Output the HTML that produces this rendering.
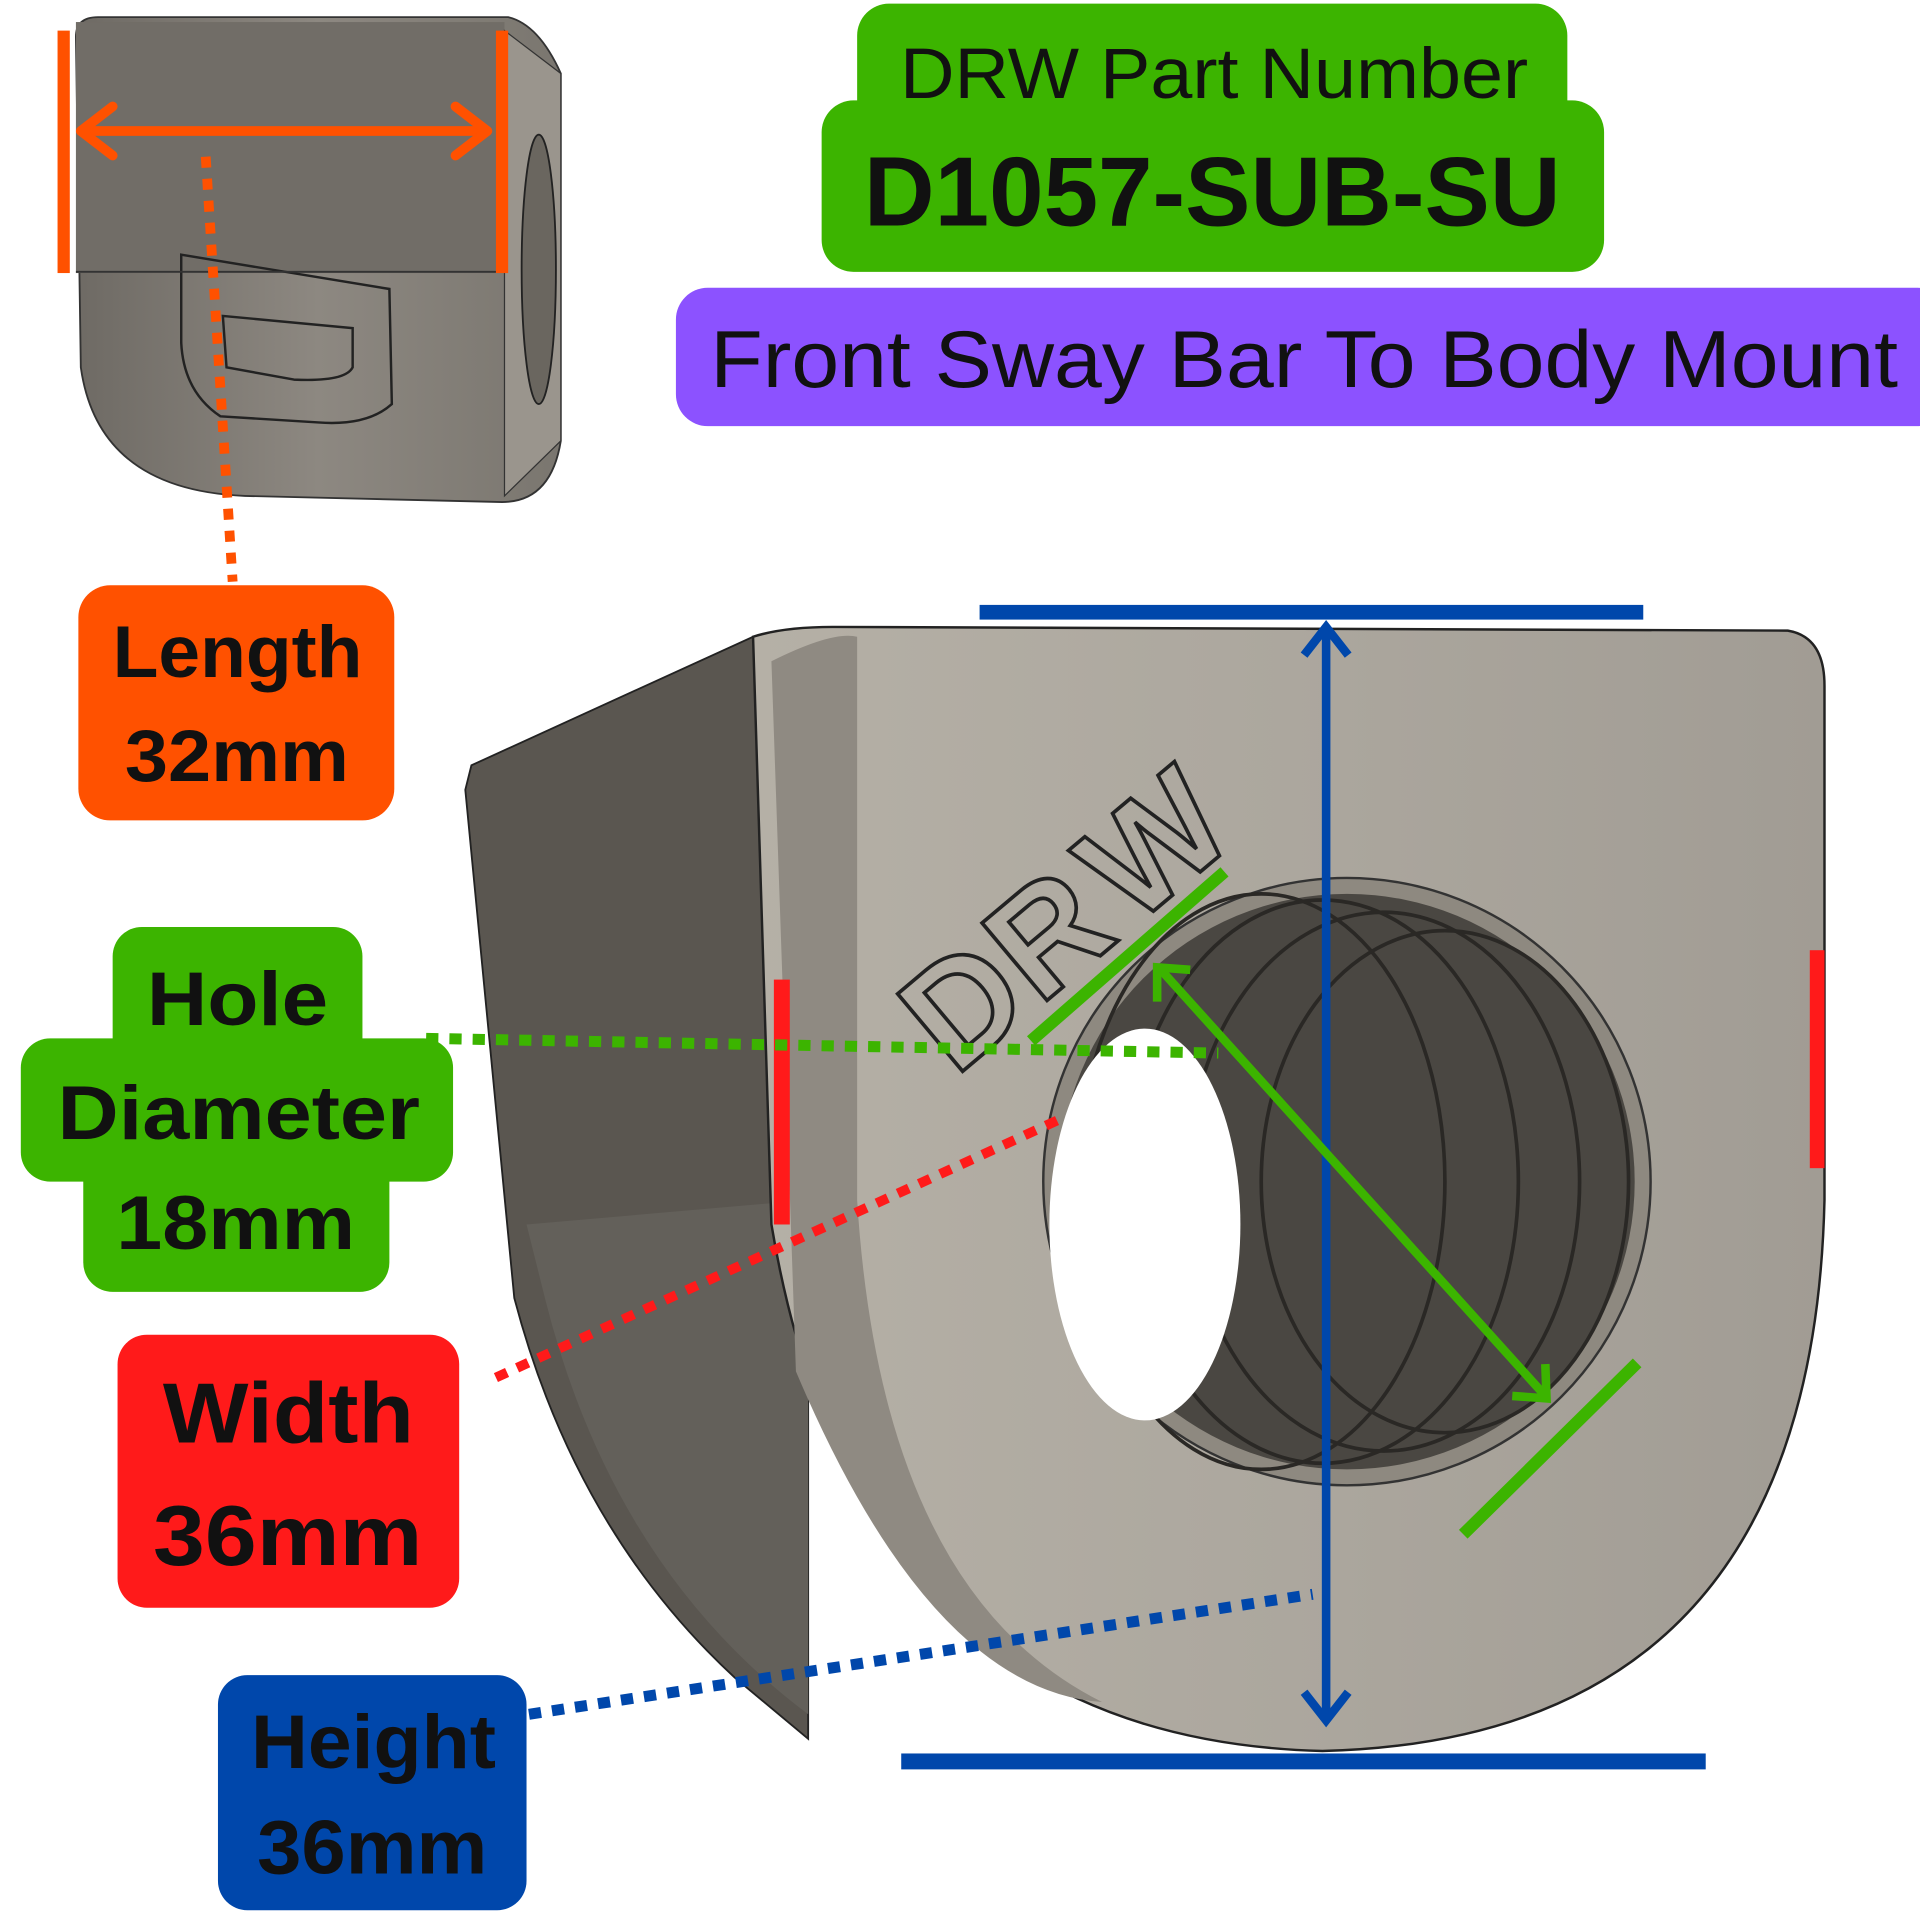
<!DOCTYPE html>
<html><head><meta charset="utf-8"><style>
html,body{margin:0;padding:0;background:#fff;width:1920px;height:1920px;overflow:hidden}
svg{display:block}
text{font-family:"Liberation Sans","DejaVu Sans",sans-serif}
</style></head><body>
<svg width="1920" height="1920" viewBox="0 0 1568 1568" xmlns="http://www.w3.org/2000/svg">
<defs>
<linearGradient id="face" x1="0" y1="0" x2="1" y2="0"><stop offset="0" stop-color="#b5b0a6"/><stop offset="0.5" stop-color="#aca79e"/><stop offset="1" stop-color="#a19c94"/></linearGradient>
<linearGradient id="small" x1="0" y1="0" x2="1" y2="0"><stop offset="0" stop-color="#6e6a64"/><stop offset="0.5" stop-color="#8d8881"/><stop offset="1" stop-color="#7a766f"/></linearGradient>
</defs>
<!-- small top part -->
<path d="M62,30 Q62,14 80,14 L415,14 Q440,20 458,60 L458,360 Q450,410 410,410 L200,405 Q80,400 66,300 Z" fill="url(#small)" stroke="#333" stroke-width="1.5"/>
<rect x="62" y="18" width="350" height="205" fill="#716d67"/>
<path d="M412,25 L458,60 L458,360 L412,405 Z" fill="#9a958d" stroke="#333" stroke-width="1"/>
<ellipse cx="440" cy="220" rx="14" ry="110" fill="#6a665f" stroke="#222" stroke-width="1.5"/>
<path d="M148,208 L318,236 L320,330 Q300,348 260,345 L180,340 Q150,320 148,280 Z" fill="none" stroke="#222" stroke-width="2"/>
<path d="M182,258 L288,268 L288,300 Q282,312 240,310 L185,300 Z" fill="none" stroke="#222" stroke-width="2"/>
<line x1="62" y1="222" x2="412" y2="222" stroke="#333" stroke-width="1.5"/>
<!-- orange -->
<rect x="47" y="25" width="10" height="198" fill="#ff5100"/>
<rect x="405" y="25" width="10" height="198" fill="#ff5100"/>
<line x1="66" y1="107" x2="398" y2="107" stroke="#ff5100" stroke-width="8"/>
<path d="M92,87 L66,107 L92,127 M372,87 L398,107 L372,127" fill="none" stroke="#ff5100" stroke-width="8" stroke-linecap="round" stroke-linejoin="round"/>
<line x1="168" y1="128" x2="190" y2="475" stroke="#ff5100" stroke-width="8" stroke-dasharray="9,9"/>
<rect x="64" y="478" width="258" height="192" rx="26" fill="#ff5100"/>
<text x="92" y="553" font-size="60" font-weight="bold" textLength="204" lengthAdjust="spacingAndGlyphs" fill="#111">Length</text>
<text x="102" y="638" font-size="60" font-weight="bold" textLength="183" lengthAdjust="spacingAndGlyphs" fill="#111">32mm</text>
<!-- title -->
<rect x="700" y="3" width="580" height="120" rx="26" fill="#3cb400"/>
<rect x="671" y="82" width="639" height="140" rx="26" fill="#3cb400"/>
<text x="735" y="80" font-size="58" textLength="513" lengthAdjust="spacingAndGlyphs" fill="#111">DRW Part Number</text>
<text x="990" y="184" font-size="80" font-weight="bold" text-anchor="middle" fill="#111">D1057-SUB-SU</text>
<rect x="552" y="235" width="1040" height="113" rx="26" fill="#8c52ff"/>
<text x="580" y="316" font-size="66" textLength="970" lengthAdjust="spacingAndGlyphs" fill="#111">Front Sway Bar To Body Mount</text>
<!-- main part -->
<path d="M380,645 L385,625 L615,520 L660,515 L660,1420 L600,1370 Q470,1250 420,1060 Z" fill="#5a5650" stroke="#222" stroke-width="1.5"/>
<path d="M430,1000 L660,980 L660,1400 Q500,1280 445,1060 Z" fill="#63605a"/>
<path d="M615,520 Q640,512 680,512 L1460,515 Q1490,520 1490,560 L1490,980 Q1480,1420 1080,1430 Q700,1420 630,1000 Z" fill="url(#face)" stroke="#222" stroke-width="2"/>
<path d="M630,540 Q680,515 700,520 L700,980 Q720,1300 900,1390 Q760,1380 650,1120 Z" fill="#8f8a82"/>
<circle cx="1100" cy="965" r="248" fill="#8e8980" stroke="#333" stroke-width="2"/>
<circle cx="1100" cy="965" r="235" fill="#4a4742"/>
<g stroke="#2a2825" stroke-width="3" fill="none">
<ellipse cx="1030" cy="965" rx="150" ry="235"/><ellipse cx="1080" cy="965" rx="160" ry="230"/><ellipse cx="1130" cy="965" rx="160" ry="220"/><ellipse cx="1180" cy="965" rx="150" ry="205"/>
</g>
<ellipse cx="935" cy="1000" rx="78" ry="160" fill="#fff"/>
<g transform="translate(780,880) rotate(-40)" font-size="120" font-weight="bold" fill="none" stroke="#222" stroke-width="3">
<text x="0" y="0">D</text><text x="90" y="0">R</text><text x="190" y="0">W</text></g>
<!-- blue -->
<rect x="800" y="494" width="542" height="12" fill="#0047ab"/>
<rect x="736" y="1432" width="657" height="13" fill="#0047ab"/>
<line x1="1083" y1="515" x2="1083" y2="1400" stroke="#0047ab" stroke-width="7"/>
<path d="M1065,535 L1083,512 L1101,535 M1065,1382 L1083,1405 L1101,1382" fill="none" stroke="#0047ab" stroke-width="7"/>
<line x1="432" y1="1400" x2="1072" y2="1302" stroke="#0047ab" stroke-width="9" stroke-dasharray="10,9"/>
<rect x="178" y="1368" width="252" height="192" rx="24" fill="#0047ab"/>
<text x="205" y="1444" font-size="62" font-weight="bold" textLength="200" lengthAdjust="spacingAndGlyphs" fill="#111">Height</text>
<text x="210" y="1530" font-size="62" font-weight="bold" textLength="188" lengthAdjust="spacingAndGlyphs" fill="#111">36mm</text>
<!-- red -->
<rect x="632" y="800" width="13" height="200" fill="#ff1a1a"/>
<rect x="1478" y="776" width="12" height="178" fill="#ff1a1a"/>
<line x1="405" y1="1125" x2="870" y2="912" stroke="#ff1a1a" stroke-width="8" stroke-dasharray="10,9"/>
<rect x="96" y="1090" width="279" height="223" rx="24" fill="#ff1a1a"/>
<text x="133" y="1178" font-size="70" font-weight="bold" textLength="205" lengthAdjust="spacingAndGlyphs" fill="#111">Width</text>
<text x="125" y="1278" font-size="70" font-weight="bold" textLength="220" lengthAdjust="spacingAndGlyphs" fill="#111">36mm</text>
<!-- green -->
<line x1="348" y1="848" x2="995" y2="860" stroke="#3cb400" stroke-width="9" stroke-dasharray="10,9"/>
<line x1="842" y1="850" x2="1000" y2="712" stroke="#3cb400" stroke-width="10"/>
<line x1="1195" y1="1253" x2="1337" y2="1113" stroke="#3cb400" stroke-width="10"/>
<line x1="948" y1="792" x2="1262" y2="1140" stroke="#3cb400" stroke-width="7"/>
<path d="M945,818 L945,790 L972,792 M1235,1140 L1263,1142 L1262,1114" fill="none" stroke="#3cb400" stroke-width="7"/>
<rect x="92" y="757" width="204" height="130" rx="24" fill="#3cb400"/>
<rect x="17" y="848" width="353" height="117" rx="24" fill="#3cb400"/>
<rect x="68" y="925" width="250" height="130" rx="24" fill="#3cb400"/>
<text x="120" y="837" font-size="62" font-weight="bold" textLength="148" lengthAdjust="spacingAndGlyphs" fill="#111">Hole</text>
<text x="47" y="930" font-size="62" font-weight="bold" textLength="296" lengthAdjust="spacingAndGlyphs" fill="#111">Diameter</text>
<text x="95" y="1020" font-size="62" font-weight="bold" textLength="195" lengthAdjust="spacingAndGlyphs" fill="#111">18mm</text>
</svg>
</body></html>
